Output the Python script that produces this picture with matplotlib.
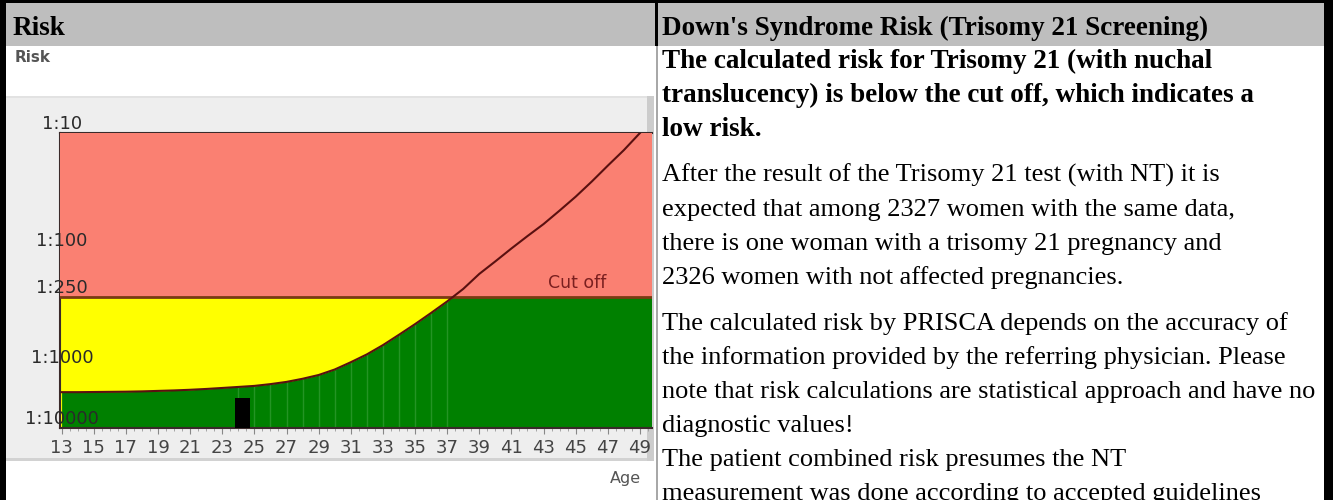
import numpy as np
import matplotlib
matplotlib.use('Agg')
import matplotlib.pyplot as plt
from matplotlib.patches import Rectangle
from matplotlib.ticker import MultipleLocator

# mother's age and risk 1:n for trisomy 21
ages = list(range(13, 50))
risk = [1640, 1640, 1635, 1630, 1625, 1615, 1600, 1585, 1565, 1540,
        1510, 1480, 1450, 1400, 1340, 1260, 1170, 1050, 910, 780,
        650, 530, 430, 345, 275, 215, 160, 125, 97, 76,
        60, 46, 35, 26, 19, 14, 10]
cutoff = 250
patient_age = 24.25
patient_bar = 1850
seam_ages = list(range(24, 38))

ytick_vals = [10, 100, 250, 1000, 3320]
ytick_labels = ['1:10', '1:100', '1:250', '1:1000', '1:10000']
xtick_vals = list(range(13, 50, 2))

header_left = 'Risk'
header_right = "Down's Syndrome Risk (Trisomy 21 Screening)"
bold_lines = ['The calculated risk for Trisomy 21 (with nuchal',
              'translucency) is below the cut off, which indicates a',
              'low risk.']
para1 = ['After the result of the Trisomy 21 test (with NT) it is',
         'expected that among 2327 women with the same data,',
         'there is one woman with a trisomy 21 pregnancy and',
         '2326 women with not affected pregnancies.']
para2 = ['The calculated risk by PRISCA depends on the accuracy of',
         'the information provided by the referring physician. Please',
         'note that risk calculations are statistical approach and have no',
         'diagnostic values!',
         'The patient combined risk presumes the NT',
         'measurement was done according to accepted guidelines']

W, H = 1333, 500
fig = plt.figure(figsize=(W / 100, H / 100), dpi=100)

# page background in pixel coordinates
bg = fig.add_axes([0, 0, 1, 1])
bg.set_xlim(0, W)
bg.set_ylim(H, 0)
bg.axis('off')

def box(x, y, w, h, c):
    bg.add_patch(Rectangle((x, y), w, h, color=c, lw=0))

box(0, 0, W, 46, '#BEBEBE')
box(0, 0, W, 3, 'black')
box(0, 0, 6, H, 'black')
box(1324, 0, 9, H, 'black')
box(655, 0, 3, 46, 'black')
box(656, 46, 1.5, H - 46, '#A8A8A8')
# grey panel of the chart picture
box(6, 96, 645, 364, '#EEEEEE')
box(6, 96, 645, 1.5, '#E2E2E2')
box(6, 458, 645, 3, '#D2D2D2')
box(647, 96, 7, 365, '#CCCCCC')

serif = 'Liberation Serif'
fs = 19
fsb = 19.5
bg.text(13, 35, header_left, fontsize=fsb, family=serif, weight='bold', va='baseline')
bg.text(662, 35, header_right, fontsize=fsb, family=serif, weight='bold', va='baseline')

lh = 34
y = 68
for s in bold_lines:
    bg.text(662, y, s, fontsize=fsb, family=serif, weight='bold', va='baseline')
    y += lh
y += 12
for s in para1:
    bg.text(662, y, s, fontsize=fs, family=serif, va='baseline')
    y += lh
y += 12
for s in para2:
    bg.text(662, y, s, fontsize=fs, family=serif, va='baseline')
    y += lh

bg.text(15, 57, 'Risk', fontsize=11, color='#555555', weight='bold', va='center')
bg.text(641, 478, 'Age', fontsize=11.5, color='#555555', ha='right', va='center')

# the chart itself
ax = fig.add_axes([60 / W, 1 - 428 / H, 592 / W, 295 / H])
ax.set_yscale('log')
x0, x1 = 12.9, 49.75
ax.set_xlim(x0, x1)
ax.set_ylim(3320, 10)

end_frac = (ages[-1] - x0) / (x1 - x0)
ax.axhspan(cutoff, 3320, xmax=end_frac, color='#FFFF00', lw=0, zorder=1)
ax.axhspan(cutoff, 3320, xmin=end_frac, color='#008000', lw=0, zorder=1)
ax.fill_between(ages, risk, 3320, color='#008000', lw=0, zorder=2)
seam_top = [risk[ages.index(a)] for a in seam_ages]
ax.vlines(seam_ages, seam_top, 3320, color='#3da33d', lw=1, alpha=0.6, zorder=2.5)
ax.bar(patient_age, patient_bar - 3320, bottom=3320, width=0.9, color='black', zorder=3)
ax.axhspan(10, cutoff, color='#FA8072', lw=0, zorder=4)
ax.axhline(cutoff, color='#7a3b12', lw=2, zorder=5)
ax.plot(ages, risk, color='#5a1010', lw=1.5, zorder=6)
ax.annotate('Cut off', xy=(45.1, cutoff), xytext=(0, 3), textcoords='offset points',
            ha='center', va='bottom', fontsize=12.5, color='#7a1f1f', zorder=7)

ax.set_yticks(ytick_vals)
ax.set_yticklabels(ytick_labels)
ax.yaxis.set_minor_locator(plt.NullLocator())
ax.tick_params(axis='y', which='both', length=0, pad=-1.5, labelsize=13, labelcolor='#2a2a2a')
plt.setp(ax.get_yticklabels(), ha='center', va='bottom')

ax.set_xticks(xtick_vals)
ax.xaxis.set_minor_locator(MultipleLocator(0.5))
ax.tick_params(axis='x', which='major', length=4, color='#888888', pad=4,
               labelsize=13, labelcolor='#444444')
ax.tick_params(axis='x', which='minor', length=2.5, color='#999999')

for side in ['left', 'bottom', 'top']:
    ax.spines[side].set_color('#3a2a2a')
    ax.spines[side].set_linewidth(1.5)
ax.spines['right'].set_visible(False)
ax.yaxis.set_zorder(10)
ax.set_zorder(2)

fig.savefig('out.png', dpi=100)
